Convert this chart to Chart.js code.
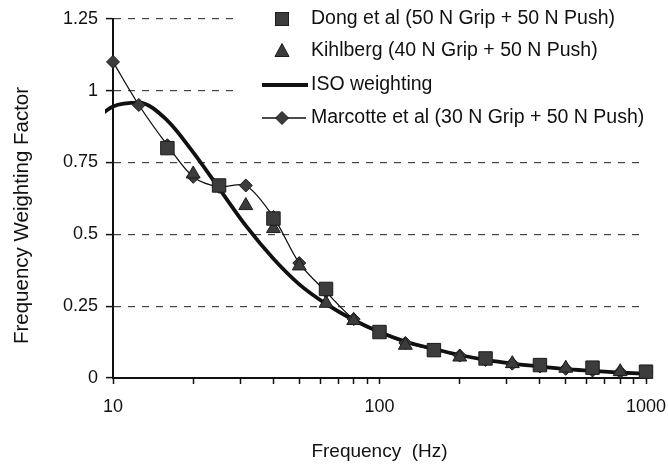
<!DOCTYPE html>
<html>
<head>
<meta charset="utf-8">
<script src="https://cdn.jsdelivr.net/npm/chart.js@4.4.1/dist/chart.umd.min.js"></script>
<style>
  html, body { margin: 0; padding: 0; background: #fff; }
  #wrap { width: 668px; height: 467px; }
</style>
</head>
<body>
<div id="wrap"><canvas id="chart" width="668" height="467"></canvas></div>
<script>
// Third-octave band data
const dongFreq = [16, 25, 40, 63, 100, 160, 250, 400, 630, 1000];
const dongValues = [0.80, 0.67, 0.555, 0.31, 0.16, 0.097, 0.068, 0.045, 0.036, 0.022];

const kihlbergFreq = [20, 31.5, 40, 50, 63, 80, 125, 200, 315, 500, 800];
const kihlbergValues = [0.71, 0.60, 0.52, 0.39, 0.26, 0.20, 0.114, 0.073, 0.05, 0.034, 0.022];

const isoFreq = [8, 10, 12.5, 16, 20, 25, 31.5, 40, 50, 63, 80, 100, 125, 160, 200, 250, 315, 400, 500, 630, 800, 1000];
const isoValues = [0.873, 0.945, 0.958, 0.896, 0.785, 0.66, 0.53, 0.415, 0.326, 0.258, 0.202, 0.160, 0.127, 0.101, 0.080, 0.063, 0.050, 0.040, 0.031, 0.025, 0.019, 0.015];

const marcotteFreq = [10, 12.5, 16, 20, 25, 31.5, 40, 50, 63, 80, 100, 125, 160, 200, 250, 315, 400, 500, 630, 800, 1000];
const marcotteValues = [1.10, 0.95, 0.81, 0.70, 0.665, 0.67, 0.56, 0.40, 0.30, 0.205, 0.16, 0.122, 0.098, 0.078, 0.063, 0.05, 0.04, 0.032, 0.026, 0.021, 0.018];

const xTickValues = [10, 20, 30, 40, 50, 60, 70, 80, 90, 100, 200, 300, 400, 500, 600, 700, 800, 900, 1000];
const xTickLabels = [10, 100, 1000];
const yTickValues = [0, 0.25, 0.5, 0.75, 1, 1.25];
const yTickLabels = ['0', '0.25', '0.5', '0.75', '1', '1.25'];

const FONT = "'Liberation Sans', Arial, sans-serif";
const MARK_FILL = '#3c3c3c';
const MARK_EDGE = '#1c1c1c';

const toXY = (xs, ys) => xs.map((x, i) => ({ x: x, y: ys[i] }));

// legend drawn inside the plot, on a white box covering the top gridlines
const insetLegend = {
    id: 'insetLegend',
    afterDraw(chart) {
        const ctx = chart.ctx;
        ctx.save();
        ctx.fillStyle = '#fff';
        ctx.fillRect(236, 0, 432, 134);

        const mx = 282, tx = 311;
        const rows = [19, 51, 85, 118];
        const labels = chart.data.datasets.map(d => d.label);

        ctx.fillStyle = MARK_FILL;
        ctx.strokeStyle = MARK_EDGE;
        ctx.lineWidth = 1;
        // square
        ctx.fillRect(mx - 6.5, rows[0] - 6.5, 13, 13);
        ctx.strokeRect(mx - 6.5, rows[0] - 6.5, 13, 13);
        // triangle
        ctx.beginPath();
        ctx.moveTo(mx, rows[1] - 7.5);
        ctx.lineTo(mx + 7, rows[1] + 5.5);
        ctx.lineTo(mx - 7, rows[1] + 5.5);
        ctx.closePath();
        ctx.fill();
        ctx.stroke();
        // thick line
        ctx.strokeStyle = '#111';
        ctx.lineWidth = 3.8;
        ctx.beginPath();
        ctx.moveTo(262, rows[2]);
        ctx.lineTo(308, rows[2]);
        ctx.stroke();
        // thin line + diamond
        ctx.lineWidth = 1.3;
        ctx.beginPath();
        ctx.moveTo(262, rows[3]);
        ctx.lineTo(306, rows[3]);
        ctx.stroke();
        ctx.strokeStyle = MARK_EDGE;
        ctx.lineWidth = 1;
        ctx.beginPath();
        ctx.moveTo(mx - 6.5, rows[3]);
        ctx.lineTo(mx, rows[3] - 6.5);
        ctx.lineTo(mx + 6.5, rows[3]);
        ctx.lineTo(mx, rows[3] + 6.5);
        ctx.closePath();
        ctx.fill();
        ctx.stroke();

        ctx.fillStyle = '#111';
        ctx.font = '19.5px ' + FONT;
        ctx.textBaseline = 'middle';
        ctx.textAlign = 'left';
        labels.forEach((t, i) => ctx.fillText(t, tx, rows[i]));
        ctx.restore();
    }
};

new Chart(document.getElementById('chart'), {
    type: 'scatter',
    data: {
        datasets: [
            {
                label: 'Dong et al (50 N Grip + 50 N Push)',
                data: toXY(dongFreq, dongValues),
                showLine: false,
                pointStyle: 'rect',
                pointRadius: 9.5,
                backgroundColor: MARK_FILL,
                borderColor: MARK_EDGE,
                borderWidth: 1,
                clip: false,
                order: 1
            },
            {
                label: 'Kihlberg (40 N Grip + 50 N Push)',
                data: toXY(kihlbergFreq, kihlbergValues),
                showLine: false,
                pointStyle: 'triangle',
                pointRadius: 8,
                backgroundColor: MARK_FILL,
                borderColor: MARK_EDGE,
                borderWidth: 1,
                clip: false,
                order: 2
            },
            {
                label: 'ISO weighting',
                data: toXY(isoFreq, isoValues),
                showLine: true,
                pointRadius: 0,
                borderColor: '#111',
                borderWidth: 3.8,
                cubicInterpolationMode: 'monotone',
                clip: { left: 8, top: 0, right: 0, bottom: 0 },
                order: 4
            },
            {
                label: 'Marcotte et al (30 N Grip + 50 N Push)',
                data: toXY(marcotteFreq, marcotteValues),
                showLine: true,
                tension: 0.3,
                borderColor: '#111',
                borderWidth: 1.3,
                pointStyle: 'rectRot',
                pointRadius: 6.5,
                pointBackgroundColor: MARK_FILL,
                pointBorderColor: MARK_EDGE,
                pointBorderWidth: 1,
                clip: false,
                order: 3
            }
        ]
    },
    options: {
        responsive: false,
        animation: false,
        events: [],
        layout: { padding: { top: 17, right: 22, left: 0, bottom: 0 } },
        plugins: {
            legend: { display: false },
            tooltip: { enabled: false }
        },
        scales: {
            x: {
                type: 'logarithmic',
                min: 10,
                max: 1000,
                afterBuildTicks: (scale) => { scale.ticks = xTickValues.map(v => ({ value: v })); },
                afterFit: (scale) => {
                    scale.height = 89;
                    scale.paddingLeft = 0;
                    scale.paddingRight = 0;
                },
                border: { display: true, color: '#111', width: 2 },
                grid: { drawOnChartArea: false, drawTicks: true, tickLength: 6, tickColor: '#111', tickWidth: 1.5 },
                ticks: {
                    autoSkip: false,
                    maxRotation: 0,
                    padding: 12,
                    color: '#111',
                    font: { family: FONT, size: 18 },
                    callback: (v) => xTickLabels.includes(v) ? String(v) : ''
                },
                title: {
                    display: true,
                    text: 'Frequency  (Hz)',
                    color: '#111',
                    font: { family: FONT, size: 19 },
                    padding: { top: 0, bottom: 4 }
                }
            },
            y: {
                type: 'linear',
                min: 0,
                max: 1.25,
                afterBuildTicks: (scale) => { scale.ticks = yTickValues.map(v => ({ value: v })); },
                afterFit: (scale) => { scale.width = 113; },
                border: { display: true, color: '#111', width: 2, dash: [7, 7] },
                grid: {
                    color: (c) => c.tick && c.tick.value === 0 ? 'rgba(0,0,0,0)' : '#444',
                    lineWidth: 1.2,
                    drawTicks: true,
                    tickLength: 7,
                    tickColor: '#111',
                    tickWidth: 1.5
                },
                ticks: {
                    padding: 8,
                    color: '#111',
                    font: { family: FONT, size: 18 },
                    callback: (v, i) => yTickLabels[i]
                },
                title: {
                    display: true,
                    text: 'Frequency Weighting Factor      ',
                    color: '#111',
                    font: { family: FONT, size: 20.5 },
                    padding: { top: 10, bottom: 0 }
                }
            }
        }
    },
    plugins: [insetLegend]
});
</script>
</body>
</html>
